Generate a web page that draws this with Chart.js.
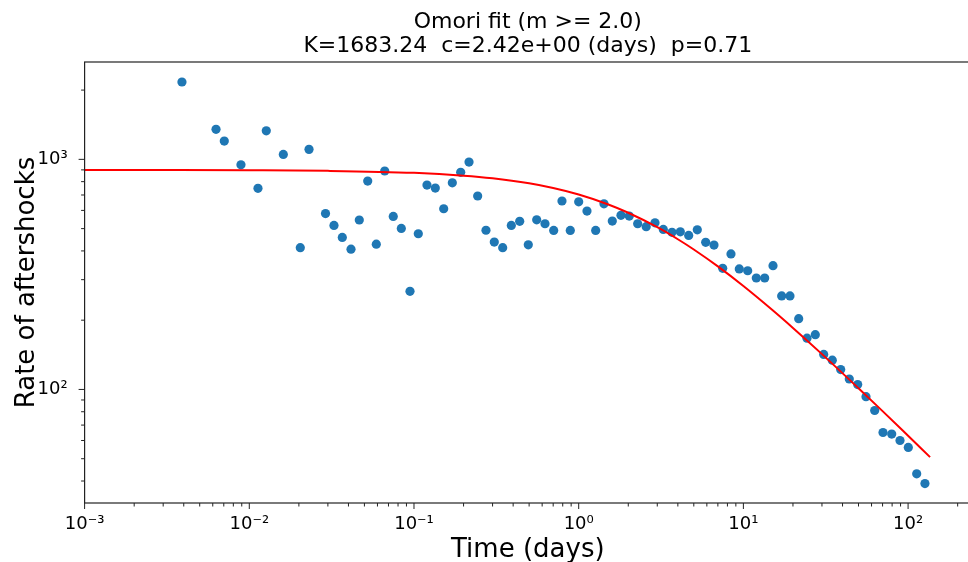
<!DOCTYPE html>
<html lang="en">
<head>
<meta charset="UTF-8">
<title>Omori fit</title>
<script src="https://cdn.jsdelivr.net/npm/chart.js@4/dist/chart.umd.min.js"></script>
<style>
  html, body { margin: 0; padding: 0; background: #fff; overflow: hidden; }
  #wrap { width: 980px; height: 562px; }
</style>
</head>
<body>
<div id="wrap"><canvas id="chart" width="980" height="562"></canvas></div>

<script>
// binned aftershock rate
const timeDays = [
  0.00390, 0.00628, 0.00705, 0.00890, 0.01129, 0.01268, 0.01609, 0.02040, 0.02305, 0.02903,
  0.03267, 0.03670, 0.04145, 0.04655, 0.05235, 0.05904, 0.06641, 0.07485, 0.08374, 0.09456,
  0.1062, 0.1199, 0.1347, 0.1515, 0.1709, 0.1921, 0.2158, 0.2436, 0.2736, 0.3073,
  0.3456, 0.3898, 0.4384, 0.4943, 0.5559, 0.6243, 0.7049, 0.7917, 0.8892, 1.000,
  1.123, 1.268, 1.424, 1.600, 1.806, 2.028, 2.281, 2.570, 2.906, 3.264,
  3.686, 4.140, 4.655, 5.250, 5.904, 6.630, 7.487, 8.408, 9.443, 10.62,
  11.98, 13.47, 15.13, 17.08, 19.18, 21.67, 24.33, 27.33, 30.74, 34.66,
  38.98, 43.95, 49.43, 55.52, 62.69, 70.42, 79.54, 89.30, 100.3, 112.8,
  126.6
];
const rateValues = [
  2168, 1350, 1201, 947, 748, 1331, 1051, 413, 1105, 581,
  516, 458, 407, 545, 805, 428, 890, 565, 501, 267,
  475, 773, 750, 610, 791, 878, 973, 693, 492, 437,
  413, 516, 538, 425, 546, 525, 491, 659, 491, 654,
  596, 491, 641, 539, 571, 567, 525, 510, 530, 496,
  482, 484, 467, 494, 436, 424, 336, 388, 334, 328,
  305, 305, 345, 255, 255, 203, 167, 173, 142, 134,
  122, 111, 105, 93, 81, 65, 64, 60, 56, 43,
  39
];

// fitted Omori curve, sampled along the red line
const fitTime = [0.001, 0.003, 0.01, 0.03, 0.1, 0.2, 0.3, 0.5, 0.7, 1, 1.5, 2, 3, 4, 5, 7, 10, 15, 20, 30, 50, 70, 100, 136];
const fitRate = [898.6, 898.2, 896.3, 891.1, 873.5, 849.6, 827.4, 786.7, 750.5, 703.2, 638.2, 586.1, 507.0, 449.6, 405.7, 342.5, 281.4, 221.3, 185.0, 142.4, 101.2, 80.5, 62.9, 50.8];

const xTickPowers = [-3, -2, -1, 0, 1, 2];
const yTickPowers = [2, 3];

const titleLines = ['Omori fit (m >= 2.0)', 'K=1683.24  c=2.42e+00 (days)  p=0.71'];

const FONT = 'DejaVu Sans';
const SUP = { '-': '\u207B', '0': '\u2070', '1': '\u00B9', '2': '\u00B2', '3': '\u00B3' };

function powLabel(powers) {
  return function (value) {
    const e = Math.log10(value);
    const r = Math.round(e);
    if (Math.abs(e - r) > 1e-6 || !powers.includes(r)) return '';
    return '10' + String(r).split('').map(ch => SUP[ch]).join('');
  };
}

// matplotlib-like frame and major/minor tick marks
const framePlugin = {
  id: 'frame',
  afterDraw(chart) {
    const { ctx, chartArea: a } = chart;
    ctx.save();
    ctx.strokeStyle = '#222';
    ctx.lineWidth = 1.2;
    ctx.strokeRect(a.left, a.top, a.right - a.left, a.bottom - a.top);

    ctx.lineWidth = 1;
    ['x', 'y'].forEach(id => {
      const sc = chart.scales[id];
      sc.ticks.forEach(t => {
        const v = t.value;
        const e = Math.floor(Math.log10(v) + 1e-9);
        const m = v / Math.pow(10, e);
        if (Math.abs(m - Math.round(m)) > 1e-6) return;
        const major = Math.round(m) === 1;
        const len = major ? 6 : 3.5;
        const p = sc.getPixelForValue(v);
        ctx.beginPath();
        if (id === 'x') {
          if (p < a.left - 0.5 || p > a.right + 0.5) return;
          ctx.moveTo(p, a.bottom);
          ctx.lineTo(p, a.bottom + len);
        } else {
          if (p < a.top - 0.5 || p > a.bottom + 0.5) return;
          ctx.moveTo(a.left, p);
          ctx.lineTo(a.left - len, p);
        }
        ctx.stroke();
      });
    });
    ctx.restore();
  }
};

new Chart(document.getElementById('chart'), {
  type: 'scatter',
  data: {
    datasets: [
      {
        label: 'fit',
        data: fitTime.map((t, i) => ({ x: t, y: fitRate[i] })),
        showLine: true,
        borderColor: '#ff0000',
        borderWidth: 2,
        pointRadius: 0,
        cubicInterpolationMode: 'monotone',
        order: 0
      },
      {
        label: 'rate',
        data: timeDays.map((t, i) => ({ x: t, y: rateValues[i] })),
        backgroundColor: '#1f77b4',
        borderWidth: 0,
        pointRadius: 4.6,
        order: 1
      }
    ]
  },
  options: {
    responsive: false,
    animation: false,
    devicePixelRatio: 1,
    layout: { padding: { left: 12, right: 9, top: 0, bottom: 0 } },
    plugins: {
      legend: { display: false },
      tooltip: { enabled: false },
      title: {
        display: true,
        text: titleLines,
        fullSize: false,
        color: '#000',
        font: { family: FONT, size: 22, weight: 'normal', lineHeight: 1.1 },
        padding: { top: 10, bottom: 3.6 }
      }
    },
    scales: {
      x: {
        type: 'logarithmic',
        min: 0.001,
        max: 241,
        grid: { display: false },
        border: { display: false },
        ticks: {
          autoSkip: false,
          maxRotation: 0,
          padding: 3,
          color: '#000',
          font: { family: FONT, size: 18 },
          callback: powLabel(xTickPowers)
        },
        title: {
          display: true,
          text: 'Time (days)',
          color: '#000',
          font: { family: FONT, size: 26 },
          padding: { top: 0, bottom: -4 }
        },
        afterFit(sc) { sc.height = 59; }
      },
      y: {
        type: 'logarithmic',
        min: 32.1,
        max: 2649,
        grid: { display: false },
        border: { display: false },
        ticks: {
          autoSkip: false,
          padding: 9,
          color: '#000',
          font: { family: FONT, size: 18 },
          callback: powLabel(yTickPowers)
        },
        title: {
          display: true,
          text: 'Rate of aftershocks',
          color: '#000',
          font: { family: FONT, size: 26 },
          padding: 0
        },
        afterFit(sc) { sc.width = 72.6; }
      }
    }
  },
  plugins: [framePlugin]
});
</script>
</body>
</html>
